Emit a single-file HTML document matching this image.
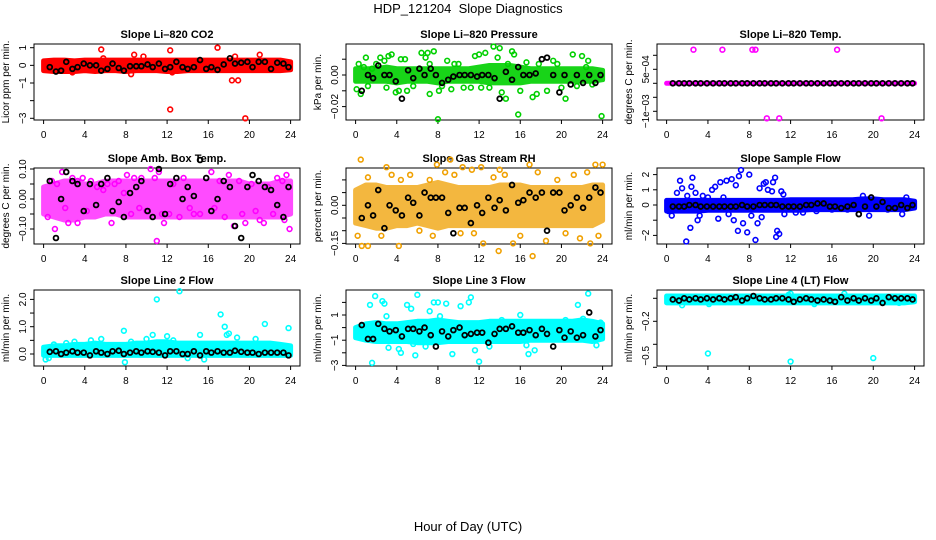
<!DOCTYPE html>
<html><head><meta charset="utf-8">
<style>
html,body{margin:0;padding:0;background:#fff;}
svg{display:block;font-family:"Liberation Sans",sans-serif;}
</style></head>
<body>
<svg id="chart" width="936" height="540" viewBox="0 0 936 540" xmlns="http://www.w3.org/2000/svg">
<text x="468" y="13" font-size="13" text-anchor="middle">HDP_121204&#160; Slope Diagnostics</text>
<text x="468" y="531" font-size="13" text-anchor="middle">Hour of Day (UTC)</text>
</svg>
<script>
// ---------- data ----------
const xTicks = [0,4,8,12,16,20,24];
const bandHours = [0,1,2,3,4,5,6,7,8,9,10,11,12,13,14,15,16,17,18,19,20,21,22,23,24];
const blackHours = [0.6,1.2,1.7,2.2,2.8,3.3,3.9,4.5,5.1,5.6,6.2,6.7,7.3,7.8,8.4,9.0,9.5,10.1,10.6,11.2,11.8,12.3,12.9,13.5,14.0,14.6,15.2,15.8,16.3,16.9,17.5,18.1,18.6,19.2,19.8,20.3,20.9,21.5,22.1,22.7,23.3,23.8];

// P1 CO2
const co2BandLo = [-0.3,-0.35,-0.35,-0.35,-0.3,-0.35,-0.3,-0.3,-0.35,-0.3,-0.3,-0.3,-0.35,-0.35,-0.3,-0.3,-0.3,-0.3,-0.3,-0.3,-0.3,-0.3,-0.3,-0.3,-0.25];
const co2BandHi = [0.25,0.3,0.3,0.25,0.3,0.3,0.3,0.3,0.3,0.3,0.3,0.3,0.3,0.3,0.3,0.3,0.3,0.3,0.3,0.3,0.3,0.3,0.3,0.3,0.2];
const co2OutX = [5.6,5.8,8.8,9.7,12.3,12.3,12.5,16.9,18.3,18.9,19.6,21,8.5,2.8,18.6];
const co2OutY = [0.9,0.4,0.6,0.5,0.85,-2.5,-0.4,1.0,-0.85,-0.85,-3.0,0.6,-0.5,-0.4,0.5];
const co2Black = [-0.1,-0.35,-0.3,0.2,-0.2,-0.1,0.1,0.0,0.0,-0.3,-0.2,0.1,-0.15,-0.3,-0.05,-0.05,-0.05,0.05,-0.1,0.1,-0.2,-0.1,0.2,-0.1,-0.2,-0.1,0.3,-0.2,-0.1,-0.25,0.05,0.4,0.1,0.15,0.2,-0.1,0.2,0.2,-0.2,0.15,0.1,-0.1];

// P2 Pressure
const presBandLo = [-0.004,-0.004,-0.004,-0.004,-0.005,-0.004,-0.004,-0.004,-0.005,-0.004,-0.004,-0.004,-0.004,-0.005,-0.005,-0.005,-0.005,-0.004,-0.004,-0.004,-0.004,-0.004,-0.004,-0.004,-0.003];
const presBandHi = [0.004,0.004,0.004,0.005,0.004,0.004,0.004,0.004,0.004,0.004,0.004,0.004,0.005,0.006,0.006,0.006,0.005,0.004,0.004,0.004,0.004,0.004,0.004,0.004,0.003];
const presOutX = [0.1,0.3,0.5,0.8,1,1.2,1.6,2,2.4,2.8,3,3.2,3.5,3.9,4.2,4.4,4.8,5,5.6,6.4,6.8,7,7.2,7.2,7.6,8,8.1,8.4,8.9,9.3,9.6,10,10.5,11.2,11.6,12,12.2,12.6,13,13.4,13.8,14,14.2,14.6,14.8,15.2,15.4,15.8,16,16.6,17.2,17.6,17.8,18.6,19.2,19.6,20,20.4,21.1,21.5,22,22.4,22.6,23,23.9];
const presOutY = [-0.009,0.007,-0.012,0.005,0.011,-0.007,0.004,0.007,0.011,0.009,-0.008,0.012,0.013,-0.011,-0.01,0.01,0.01,-0.01,-0.007,0.014,0.011,0.014,0.007,-0.012,0.015,-0.028,-0.01,-0.007,0.009,-0.009,0.007,0.007,-0.008,-0.008,0.012,0.013,-0.008,0.014,-0.008,0.018,0.011,0.017,-0.011,-0.015,0.007,0.015,0.013,-0.025,-0.01,0.008,-0.014,-0.012,0.007,-0.01,0.009,0.007,-0.008,-0.015,0.013,-0.007,0.012,0.005,0.009,-0.006,-0.026];
const presBlack = [-0.01,0,-0.002,0.006,0,0,-0.004,-0.015,0.003,-0.002,0.004,0,0.004,0,-0.005,-0.003,-0.001,0,0,0,-0.001,0,0,-0.002,-0.015,0.002,-0.003,0.005,0,0,0.001,0.01,0.011,0,-0.011,0,-0.006,0,-0.005,0,-0.005,0];

// P3 Temp
const tempBandLo = [0,0,0,0,0,0,0,0,0,0,0,0,0,0,0,0,0,0,0,0,0,0,0,0,0];
const tempBandHi = [0,0,0,0,0,0,0,0,0,0,0,0,0,0,0,0,0,0,0,0,0,0,0,0,0];
const tempOutX = [2.6,5.4,8.3,8.6,16.5,9.7,10.9,20.8];
const tempOutY = [0.0012,0.0012,0.0012,0.0012,0.0012,-0.00125,-0.00125,-0.00125];
const tempBlack = [0,0,0,0,0,0,0,0,0,0,0,0,0,0,0,0,0,0,0,0,0,0,0,0,0,0,0,0,0,0,0,0,0,0,0,0,0,0,0,0,0,0];

// P4 Amb box temp
const ambBandLo = [-0.05,-0.06,-0.07,-0.07,-0.06,-0.06,-0.05,-0.05,-0.06,-0.06,-0.06,-0.06,-0.06,-0.06,-0.06,-0.06,-0.06,-0.06,-0.06,-0.06,-0.06,-0.06,-0.06,-0.06,-0.05];
const ambBandHi = [0.04,0.05,0.06,0.06,0.05,0.05,0.06,0.06,0.06,0.06,0.06,0.06,0.06,0.06,0.06,0.06,0.06,0.06,0.06,0.06,0.05,0.05,0.05,0.06,0.06];
const ambOutX = [0.4,0.8,1.1,1.3,1.8,2.1,2.4,2.8,3.3,3.3,3.8,4.2,4.6,5.2,5.8,6.2,6.6,6.9,7.3,7.8,8.1,8.5,8.8,9.3,9.5,10,10.4,10.8,11.2,11.5,11.7,12.2,12.6,13.2,13.6,14.2,14.6,15.2,15.8,16.3,16.6,17.1,17.6,18,18.5,19,19.3,19.6,20.2,20.6,21,21.4,21.8,22.3,22.7,23.2,23.4,23.6,23.9,11];
const ambOutY = [-0.06,0.06,-0.1,0.05,0.09,-0.03,-0.08,0.07,-0.08,0.06,0.07,-0.04,0.06,0.04,0.03,0.05,-0.08,0.05,0.06,0.02,0.08,-0.05,0.07,-0.03,0.07,-0.04,0.1,0.07,0.09,-0.05,-0.08,-0.05,0.05,-0.06,0.07,-0.03,-0.05,-0.05,0.07,0.09,-0.03,0.06,-0.06,0.08,-0.09,0.06,-0.05,-0.08,0.05,-0.04,-0.07,-0.08,0.04,-0.05,0.07,0.06,-0.07,0.08,-0.1,-0.14];
const ambBlack = [0.06,-0.13,0.0,0.09,0.06,0.05,-0.04,0.05,-0.02,0.05,0.07,-0.04,-0.01,-0.06,0.02,0.04,0.06,-0.04,-0.06,0.1,-0.05,0.05,0.07,0.0,0.04,0.01,0.13,0.07,-0.04,0.0,0.06,0.04,-0.09,-0.13,0.04,0.08,0.06,0.04,0.03,-0.02,-0.06,0.04];

// P5 Gas stream RH
const rhBandLo = [-0.07,-0.08,-0.09,-0.09,-0.08,-0.08,-0.07,-0.08,-0.09,-0.08,-0.08,-0.08,-0.08,-0.08,-0.08,-0.08,-0.08,-0.08,-0.08,-0.08,-0.08,-0.08,-0.08,-0.08,-0.06];
const rhBandHi = [0.06,0.08,0.08,0.07,0.07,0.07,0.07,0.08,0.09,0.08,0.07,0.07,0.07,0.07,0.08,0.08,0.08,0.07,0.07,0.07,0.07,0.07,0.07,0.08,0.08];
const rhOutX = [0.5,0.6,0.2,1.2,1.2,2.5,3.0,3.5,4.2,4.4,5.3,6.2,7.2,7.5,7.9,8.7,9.2,9.6,10.2,10.4,11.3,11.5,12.2,12.4,13.4,13.9,14,14.5,15.3,16,16.9,17.2,17.7,18.5,19.6,20.4,21.2,21.8,22.5,22.8,23.3,24,23.6];
const rhOutY = [0.18,-0.16,-0.12,0.11,-0.16,-0.12,0.15,0.12,-0.16,0.1,0.12,-0.1,0.1,-0.12,0.16,0.13,0.18,0.12,-0.11,0.15,0.14,-0.11,0.15,-0.15,0.11,-0.18,0.14,0.12,-0.15,-0.12,0.16,-0.2,0.13,-0.14,0.1,-0.11,0.12,-0.13,0.13,-0.15,0.16,0.16,-0.12];
const rhBlack = [-0.05,0.0,-0.04,0.06,-0.09,0.0,-0.02,-0.04,0.03,0.01,-0.04,0.05,0.03,0.03,0.03,-0.03,-0.11,-0.01,-0.01,-0.07,0.0,-0.03,0.03,-0.01,0.02,-0.02,0.08,0.01,0.02,0.05,0.03,0.05,-0.1,0.05,0.05,-0.02,0.0,0.03,-0.01,0.03,0.07,0.05];

// P6 Sample flow
const sfBandLo = [-0.4,-0.4,-0.4,-0.4,-0.35,-0.35,-0.35,-0.35,-0.35,-0.35,-0.35,-0.35,-0.35,-0.35,-0.3,-0.3,-0.3,-0.3,-0.3,-0.3,-0.3,-0.3,-0.3,-0.3,-0.2];
const sfBandHi = [0.3,0.3,0.3,0.3,0.3,0.3,0.3,0.3,0.3,0.3,0.3,0.3,0.35,0.35,0.35,0.35,0.35,0.35,0.35,0.4,0.4,0.35,0.35,0.35,0.25];
const sfOutX = [0.2,0.5,1,1.3,1.5,1.9,2,2.3,2.4,2.5,2.8,3,3.2,3.5,4,4.4,4.7,5,5.2,5.5,5.8,6,6.3,6.5,6.7,6.9,7,7.2,7.4,7.8,8,8.2,8.6,8.8,9,9.2,9.4,9.6,9.8,10.2,10.3,10.5,10.6,10.7,10.9,11.1,11.3,11.4,12.5,13.2,14.5,16,17.5,18.6,19,19.6,21.4,22.8,23.2];
const sfOutY = [-0.4,-0.7,0.8,1.6,1.1,-2.4,0.6,-1.5,1.2,1.8,0.8,-1,-0.7,0.6,0.5,1,1.2,-0.9,1.5,0.5,1.6,-0.6,1.7,-1,1.3,-1.7,1.9,2.3,-1.2,-1.8,2,-0.7,-2.3,-1.2,1.1,-0.8,1.4,1.5,1,0.9,1.5,1.8,-2.1,-1.7,-1.9,0.9,0.7,-0.6,-0.5,-0.5,-0.4,-0.3,-0.3,-0.6,0.6,-0.7,-0.3,-0.6,0.5];
const sfBlack = [-0.1,-0.1,-0.1,0,0,-0.1,-0.1,-0.1,-0.1,-0.1,-0.1,-0.1,0,-0.1,-0.1,0,0,0,0,-0.1,-0.1,-0.1,-0.1,0,0,0.1,0.1,-0.1,-0.1,-0.2,-0.1,0,-0.6,-0.1,0.5,-0.1,0.2,-0.2,-0.2,0,-0.2,0];

// P7 Line 2 flow
const l2BandLo = [-0.05,-0.05,-0.05,-0.05,-0.05,-0.05,-0.05,-0.05,-0.05,-0.05,-0.05,-0.05,-0.05,-0.05,-0.05,-0.05,-0.05,-0.05,-0.05,-0.05,-0.05,-0.05,-0.05,-0.05,-0.05];
const l2BandHi = [0.25,0.3,0.3,0.35,0.35,0.4,0.35,0.35,0.35,0.4,0.4,0.45,0.45,0.4,0.4,0.4,0.4,0.4,0.4,0.4,0.4,0.4,0.4,0.35,0.3];
const l2OutX = [0.2,0.5,1,2.2,3,4.6,5.6,7.8,7.9,8.5,10,10.6,11,12,12.6,13.2,15.2,15.6,17.2,17.6,17.8,18,18.8,20.6,21.5,23.8,14];
const l2OutY = [-0.2,-0.15,0.35,0.4,0.45,0.5,0.55,0.85,-0.3,0.45,0.55,0.7,2,0.65,0.5,2.3,0.7,-0.2,1.45,1,0.7,0.75,0.6,0.55,1.1,0.95,-0.15];
const l2Black = [0.08,0.1,0,0.05,0.1,0.05,0.05,-0.05,0.1,0.05,0,0.1,0.12,0,0.05,0.1,0.05,0.1,0.08,0.05,-0.05,0.1,0.1,0,0,0.1,-0.05,0.1,0.05,0.1,0.05,0.05,0.12,0.08,0.05,0.05,0,0.05,0.05,0.05,0.05,-0.05];

// P8 Line 3 flow
const l3BandLo = [-0.8,-1,-1.1,-1.1,-1.1,-1.1,-1.2,-1.2,-1.2,-1.1,-1.1,-1.1,-1.1,-1.1,-1.1,-1.1,-1.1,-1,-1,-1,-1,-1,-1,-1.1,-0.9];
const l3BandHi = [0,0.3,0.4,0.3,0.3,0.4,0.5,0.5,0.6,0.5,0.4,0.4,0.4,0.5,0.5,0.5,0.5,0.5,0.5,0.5,0.5,0.5,0.6,0.5,0.3];
const l3OutX = [0.6,1.4,1.6,1.9,2.6,2.8,3,3.2,4.2,4.4,5,5.4,5.6,5.8,6,6.6,6.8,7.2,7.6,8,8.2,8.8,9.4,10.2,11,11.2,11.6,12,13,14.2,15.2,16,16.6,16.8,17.4,19.2,20.4,21.6,22.6,22.1,23.4,23.8];
const l3OutY = [-0.8,1.8,-2.8,2.5,2.1,1.9,0.9,-1.6,-1.7,-2,1.8,1.5,-1.3,-2.2,2.6,-0.8,-1.5,1.3,2,2,0.9,1.9,-2.1,1.7,2,2.4,-1.8,-2.7,-1.5,0.6,-1,1,-1.4,-2.1,-1.8,0.4,0.6,1.8,2.7,0.7,-1.4,0.4];
const l3Black = [0.2,-0.9,-0.9,0.3,-0.1,-0.3,-0.2,-0.7,-0.1,-0.1,-0.3,0,-0.6,-1.5,-0.3,-0.7,-0.2,0,-0.6,-0.5,-0.4,-0.4,-1.2,-0.5,-0.1,-0.1,0.1,-0.4,-0.4,-0.2,-0.6,-0.1,-0.5,-1.5,-0.2,-0.8,-0.3,-0.8,-0.6,1.2,-0.7,-0.2];

// P9 Line 4 flow
const l4BandLo = [-0.04,-0.04,-0.04,-0.04,-0.04,-0.04,-0.04,-0.04,-0.04,-0.04,-0.04,-0.04,-0.04,-0.04,-0.04,-0.04,-0.04,-0.04,-0.04,-0.04,-0.04,-0.04,-0.04,-0.04,-0.03];
const l4BandHi = [0.02,0.02,0.02,0.02,0.02,0.02,0.02,0.02,0.02,0.02,0.02,0.02,0.02,0.02,0.02,0.02,0.02,0.02,0.02,0.02,0.02,0.02,0.02,0.02,0.02];
const l4OutX = [4,12,20,1.5,4.1,12,14.3,17.2,22.5,11.8];
const l4OutY = [-0.48,-0.55,-0.52,-0.06,-0.05,0.04,-0.05,0.04,-0.04,0.03];
const l4Black = [-0.01,-0.02,0,-0.01,0,-0.01,0,-0.01,0,-0.01,0,0.01,-0.02,0,0.02,0,-0.01,-0.01,0,0,-0.01,-0.03,-0.01,0,-0.01,-0.02,-0.01,-0.02,-0.03,0.01,-0.02,0,-0.02,0,-0.02,0,-0.04,0.01,0,0,0,-0.01];

// ---------- layout ----------
const cols = [{l:34,r:300},{l:346,r:612},{l:657,r:924}];
const rows = [{t:44,b:120},{t:168,b:244},{t:290,b:366}];
const panels = [
 {name:'co2',title:'Slope Li\u2013820 CO2',ylab:'Licor ppm per min.',c:0,r:0,zero:65.35,ppu:17.65,ticks:[1,0,-1,-2,-3],labels:[[1,'1'],[0,'0'],[-1,'\u22121'],[-3,'\u22123']],color:'#ff0000',op:1,bandLo:co2BandLo,bandHi:co2BandHi,outX:co2OutX,outY:co2OutY,black:co2Black},
 {name:'pressure',title:'Slope Li\u2013820 Pressure',ylab:'kPa per min.',c:1,r:0,zero:75,ppu:1580,ticks:[0.01,0,-0.01,-0.02],labels:[[0,'0.00'],[-0.02,'\u22120.02']],color:'#00d000',op:0.9,bandLo:presBandLo,bandHi:presBandHi,outX:presOutX,outY:presOutY,black:presBlack},
 {name:'temp',title:'Slope Li\u2013820 Temp.',ylab:'degrees C per min.',c:2,r:0,zero:83.3,ppu:28000,ticks:[0.001,0.0005,0,-0.0005,-0.001],labels:[[0.0005,'5e\u221204'],[-0.001,'\u22121e\u221203']],color:'#ff00ff',op:1,bandLo:tempBandLo,bandHi:tempBandHi,outX:tempOutX,outY:tempOutY,black:tempBlack},
 {name:'amb-temp',title:'Slope Amb. Box Temp.',ylab:'degrees C per min.',c:0,r:1,zero:199,ppu:300,ticks:[0.1,0.05,0,-0.05,-0.1],labels:[[0.1,'0.10'],[0,'0.00'],[-0.1,'\u22120.10']],color:'#ff00ff',op:0.7,bandLo:ambBandLo,bandHi:ambBandHi,outX:ambOutX,outY:ambOutY,black:ambBlack},
 {name:'gas-rh',title:'Slope Gas Stream RH',ylab:'percent per min.',c:1,r:1,zero:205.3,ppu:254,ticks:[0.1,0.05,0,-0.05,-0.1,-0.15],labels:[[0,'0.00'],[-0.15,'\u22120.15']],color:'#f0a000',op:0.75,bandLo:rhBandLo,bandHi:rhBandHi,outX:rhOutX,outY:rhOutY,black:rhBlack},
 {name:'sample-flow',title:'Slope Sample Flow',ylab:'ml/min per min.',c:2,r:1,zero:205,ppu:15.2,ticks:[2,1,0,-1,-2],labels:[[2,'2'],[1,'1'],[0,'0'],[-2,'\u22122']],color:'#0000ff',op:1,bandLo:sfBandLo,bandHi:sfBandHi,outX:sfOutX,outY:sfOutY,black:sfBlack},
 {name:'line2-flow',title:'Slope Line 2 Flow',ylab:'ml/min per min.',c:0,r:2,zero:354,ppu:27.3,ticks:[0,0.5,1,1.5,2],labels:[[0,'0.0'],[1,'1.0'],[2,'2.0']],color:'#00ffff',op:1,bandLo:l2BandLo,bandHi:l2BandHi,outX:l2OutX,outY:l2OutY,black:l2Black},
 {name:'line3-flow',title:'Slope Line 3 Flow',ylab:'ml/min per min.',c:1,r:2,zero:327.6,ppu:12.6,ticks:[2,1,0,-1,-2,-3],labels:[[1,'1'],[-1,'\u22121'],[-3,'\u22123']],color:'#00ffff',op:1,bandLo:l3BandLo,bandHi:l3BandHi,outX:l3OutX,outY:l3OutY,black:l3Black},
 {name:'line4-flow',title:'Slope Line 4 (LT) Flow',ylab:'ml/min per min.',c:2,r:2,zero:298.3,ppu:115,ticks:[0,-0.2,-0.4,-0.6],labels:[[-0.2,'\u22120.2'],[-0.5,'\u22120.5']],color:'#00ffff',op:1,bandLo:l4BandLo,bandHi:l4BandHi,outX:l4OutX,outY:l4OutY,black:l4Black}
];

const NS='http://www.w3.org/2000/svg';
const svg=document.getElementById('chart');
function mk(tag,attrs,parent){const e=document.createElementNS(NS,tag);for(const k in attrs)e.setAttribute(k,attrs[k]);(parent||svg).appendChild(e);return e;}

panels.forEach(p=>{
  const C=cols[p.c],R=rows[p.r];
  const xs=h=>C.l+9.6+h*((C.r-C.l-19)/24);
  const ys=v=>p.zero-v*p.ppu;
  const g=mk('g',{});
  
  
  const cx=(C.l+C.r)/2;
  const t=mk('text',{x:cx,y:R.t-6,'font-size':11,'font-weight':'bold','text-anchor':'middle'},g);
  t.textContent=p.title;
  
  
  const ylx=C.l-25,yly=(R.t+R.b)/2;
  const yl=mk('text',{x:ylx,y:yly,'font-size':10,'text-anchor':'middle',transform:`rotate(-90 ${ylx} ${yly})`},g);
  yl.textContent=p.ylab;
  
  
  const box=mk('rect',{x:C.l,y:R.t,width:C.r-C.l,height:R.b-R.t,fill:'none',stroke:'#000','stroke-width':1},g);
  
  
  xTicks.forEach(v=>{
    const x=xs(v);
    const tk=mk('line',{x1:x,x2:x,y1:R.b,y2:R.b+4,stroke:'#000'},g);
    
    
    const tl=mk('text',{x:x,y:R.b+18,'font-size':10,'text-anchor':'middle'},g);
    tl.textContent=v;
    
    
  });
  p.ticks.forEach(v=>{
    const y=ys(v);
    const tk=mk('line',{x1:C.l-4,x2:C.l,y1:y,y2:y,stroke:'#000'},g);
    
    
  });
  p.labels.forEach(([v,s])=>{
    const y=ys(v),x=C.l-8;
    const tl=mk('text',{x:x,y:y,'font-size':10,'text-anchor':'middle',transform:`rotate(-90 ${x} ${y})`},g);
    tl.textContent=s;
    
    
  });
  let d='';
  bandHours.forEach((h,i)=>{d+=(i?'L':'M')+xs(h).toFixed(1)+' '+ys(p.bandHi[i]).toFixed(1);});
  for(let i=bandHours.length-1;i>=0;i--){d+='L'+xs(bandHours[i]).toFixed(1)+' '+ys(p.bandLo[i]).toFixed(1);}
  d+='Z';
  const band=mk('path',{d:d,fill:p.color,stroke:p.color,'stroke-width':5,'stroke-linejoin':'round',opacity:p.op},g);
  
  
  p.outX.forEach((h,i)=>{
    const c=mk('circle',{cx:xs(h),cy:ys(p.outY[i]),r:2.4,fill:'none',stroke:p.color,'stroke-width':1.6},g);
    
    
  });
  blackHours.forEach((h,i)=>{
    const c=mk('circle',{cx:xs(h),cy:ys(p.black[i]),r:2.4,fill:'none',stroke:'#000','stroke-width':1.8},g);
    
    
  });
});
</script>
</body></html>
